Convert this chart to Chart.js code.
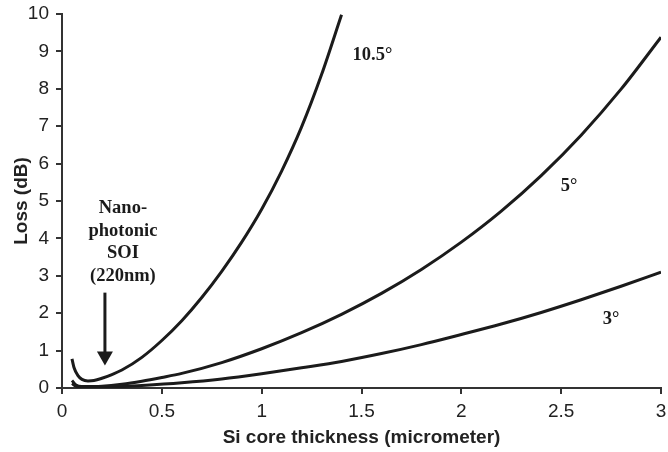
<!DOCTYPE html>
<html>
<head>
<meta charset="utf-8">
<script src="https://cdn.jsdelivr.net/npm/chart.js@4"></script>
<style>
  html, body { margin: 0; padding: 0; background: #fff; }
  #wrap { width: 668px; height: 452px; position: relative; }
</style>
</head>
<body>
<div id="wrap"><canvas id="c"></canvas></div>
<script>
/* Loss vs Si core thickness for three sidewall angles. */
const x105 = [0.05, 0.06, 0.08, 0.1, 0.13, 0.16, 0.2, 0.25, 0.3, 0.4, 0.5, 0.6, 0.7, 0.8, 0.9, 1.0, 1.1, 1.2, 1.3, 1.4];
const y105 = [0.78, 0.55, 0.33, 0.23, 0.19, 0.2, 0.26, 0.36, 0.48, 0.82, 1.27, 1.8, 2.42, 3.12, 3.9, 4.78, 5.8, 6.98, 8.38, 9.98];
const x5 = [0.05, 0.07, 0.1, 0.2, 0.3, 0.4, 0.5, 0.6, 0.8, 1.0, 1.2, 1.4, 1.6, 1.8, 2.0, 2.2, 2.4, 2.6, 2.8, 3.0];
const y5 = [0.2, 0.08, 0.04, 0.05, 0.1, 0.18, 0.28, 0.39, 0.68, 1.05, 1.48, 1.97, 2.53, 3.17, 3.9, 4.73, 5.68, 6.76, 7.99, 9.38];
const x3 = [0.05, 0.07, 0.1, 0.2, 0.4, 0.6, 0.8, 1.0, 1.2, 1.4, 1.6, 1.8, 2.0, 2.2, 2.4, 2.6, 2.8, 3.0];
const y3 = [0.12, 0.05, 0.02, 0.02, 0.07, 0.14, 0.24, 0.38, 0.54, 0.71, 0.92, 1.16, 1.43, 1.71, 2.02, 2.36, 2.72, 3.1];

// curve labels and the 220 nm callout, in data units
const curveLabels = [
  { text: "10.5°", x: 1.555, y: 8.9 },
  { text: "5°", x: 2.54, y: 5.4 },
  { text: "3°", x: 2.75, y: 1.84 },
];
const calloutLines = ["Nano-", "photonic", "SOI", "(220nm)"];
const calloutAt = { x: 0.305, y: 4.8 };
const arrowAt = { x: 0.215, from: 2.55, to: 0.6 };

const INK = "#1b1b1b";
const pts = (xs, ys) => xs.map((x, i) => ({ x, y: ys[i] }));
const line = (xs, ys) => ({
  data: pts(xs, ys), borderColor: INK, borderWidth: 3, pointRadius: 0,
  fill: false, cubicInterpolationMode: "monotone",
});

const annot = {
  id: "annot",
  afterDatasetsDraw(chart) {
    const { ctx, scales: { x, y } } = chart;
    ctx.save();
    ctx.fillStyle = INK;
    ctx.textAlign = "center";
    ctx.textBaseline = "middle";
    ctx.font = "bold 18.5px 'Liberation Serif', 'Times New Roman', serif";
    curveLabels.forEach(l => ctx.fillText(l.text, x.getPixelForValue(l.x), y.getPixelForValue(l.y)));
    const cx = x.getPixelForValue(calloutAt.x), cy = y.getPixelForValue(calloutAt.y);
    calloutLines.forEach((t, i) => ctx.fillText(t, cx, cy + i * 22.5));
    // arrow pointing at 220 nm
    const ax = x.getPixelForValue(arrowAt.x);
    const y0 = y.getPixelForValue(arrowAt.from), y1 = y.getPixelForValue(arrowAt.to);
    ctx.strokeStyle = INK; ctx.lineWidth = 3;
    ctx.beginPath(); ctx.moveTo(ax, y0); ctx.lineTo(ax, y1 - 12); ctx.stroke();
    ctx.beginPath(); ctx.moveTo(ax - 8, y1 - 14); ctx.lineTo(ax + 8, y1 - 14); ctx.lineTo(ax, y1); ctx.closePath(); ctx.fill();
    ctx.restore();
  },
};

const axisFont = { family: "'Liberation Sans', Arial, sans-serif", size: 19 };
new Chart(document.getElementById("c"), {
  type: "line",
  data: { datasets: [line(x105, y105), line(x5, y5), line(x3, y3)] },
  options: {
    responsive: true, maintainAspectRatio: false, animation: false,
    layout: { padding: 0 },
    plugins: { legend: { display: false }, tooltip: { enabled: false } },
    scales: {
      x: {
        type: "linear", min: 0, max: 3,
        border: { color: "#333", width: 2 },
        grid: { drawOnChartArea: false, tickLength: 6, tickColor: "#333", lineWidth: 2 },
        ticks: { stepSize: 0.5, color: "#222", font: axisFont, padding: 6, maxRotation: 0,
                 callback: v => String(+v.toFixed(1)) },
        title: { display: true, text: "Si core thickness (micrometer)", color: "#222",
                 font: { ...axisFont, weight: "bold" }, padding: { top: 0, bottom: 3 } },
        afterFit(s) { s.height = 64; s.paddingLeft = 0; s.paddingRight = 7; },
      },
      y: {
        min: 0, max: 10,
        border: { color: "#333", width: 2 },
        grid: { drawOnChartArea: false, tickLength: 6, tickColor: "#333", lineWidth: 2 },
        ticks: { stepSize: 1, color: "#222", font: axisFont, padding: 7 },
        title: { display: true, text: "Loss (dB)", color: "#222",
                 font: { ...axisFont, weight: "bold" }, padding: { top: 10, bottom: 0 } },
        afterFit(s) { s.width = 62; s.paddingTop = 14; s.paddingBottom = 0; },
      },
    },
  },
  plugins: [annot],
});
</script>
</body>
</html>
